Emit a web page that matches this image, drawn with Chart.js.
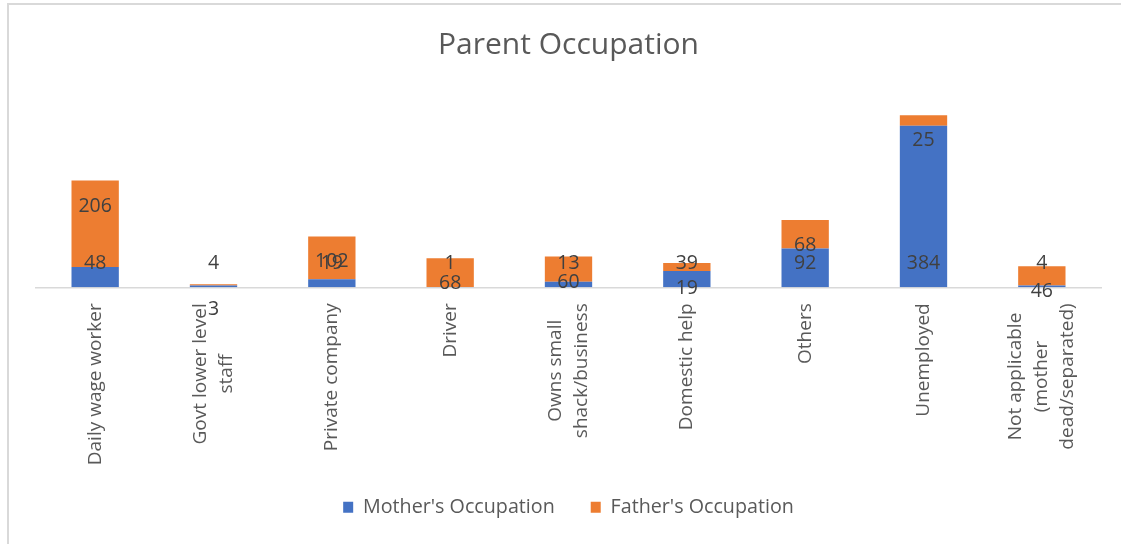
<!DOCTYPE html>
<html>
<head>
<meta charset="utf-8">
<style>
  html, body { margin: 0; padding: 0; background: #ffffff; }
  #wrap { position: relative; width: 1121px; height: 544px; }
</style>
<script src="https://cdn.jsdelivr.net/npm/chart.js@4.4.1/dist/chart.umd.min.js"></script>
</head>
<body>
<div id="wrap"><canvas id="c" width="1121" height="544"></canvas></div>
<script>
// ---- data ----
const chartTitle = "Parent Occupation";
const categories = [
  ["Daily wage worker"],
  ["Govt lower level", "staff"],
  ["Private company"],
  ["Driver"],
  ["Owns small", "shack/business"],
  ["Domestic help"],
  ["Others"],
  ["Unemployed"],
  ["Not applicable", "(mother", "dead/separated)"]
];
const seriesNames = ["Mother's Occupation", "Father's Occupation"];
const motherValues = [48, 4, 19, 1, 13, 39, 92, 384, 4];
const fatherValues = [206, 3, 102, 68, 60, 19, 68, 25, 46];
const yMax = 450;

const FONT = "'Open Sans', 'DejaVu Sans', sans-serif";

const decor = {
  id: 'decor',
  beforeDraw(chart) {
    const ctx = chart.ctx;
    ctx.save();
    ctx.fillStyle = '#d9d9d9';
    ctx.fillRect(7, 3, chart.width - 7, 2);
    ctx.fillRect(7, 3, 2, chart.height - 3);
    ctx.restore();
  },
  afterDraw(chart) {
    const ctx = chart.ctx, xs = chart.scales.x, area = chart.chartArea;
    ctx.save();
    // category labels (rotated, centered multi-line)
    ctx.font = `19px ${FONT}`;
    ctx.fillStyle = '#595959';
    ctx.textAlign = 'center';
    ctx.textBaseline = 'middle';
    categories.forEach((lines, i) => {
      const px = xs.getPixelForTick(i);
      const maxW = Math.max(...lines.map(l => ctx.measureText(l).width));
      const cy = area.bottom + 16 + maxW / 2;
      lines.forEach((l, j) => {
        ctx.save();
        ctx.translate(px + (j - (lines.length - 1) / 2) * 26, cy);
        ctx.rotate(-Math.PI / 2);
        ctx.fillText(l, 0, 0);
        ctx.restore();
      });
    });
    // data labels
    ctx.font = `19.5px ${FONT}`;
    ctx.fillStyle = '#404040';
    const m0 = chart.getDatasetMeta(0), m1 = chart.getDatasetMeta(1);
    m0.data.forEach((bar, i) => ctx.fillText(String(motherValues[i]), bar.x, bar.base - 23.5));
    m1.data.forEach((bar, i) => ctx.fillText(String(fatherValues[i]), bar.x, bar.y + 25.5));
    ctx.restore();
  }
};

new Chart(document.getElementById('c'), {
  type: 'bar',
  data: {
    labels: categories,
    datasets: [
      { label: seriesNames[0], data: motherValues, backgroundColor: '#4472C4', borderWidth: 0 },
      { label: seriesNames[1], data: fatherValues, backgroundColor: '#ED7D31', borderWidth: 0 }
    ]
  },
  options: {
    responsive: false,
    animation: false,
    devicePixelRatio: 1,
    layout: { padding: { left: 36, right: 20, top: 0, bottom: 17 } },
    datasets: { bar: { categoryPercentage: 1.0, barPercentage: 0.4 } },
    scales: {
      x: {
        stacked: true,
        grid: { display: false },
        border: { display: true, color: '#d9d9d9', width: 1.5 },
        ticks: { display: false },
        afterFit(s) { s.height = 174; }
      },
      y: {
        stacked: true,
        display: false,
        min: 0,
        max: yMax
      }
    },
    plugins: {
      title: {
        display: true,
        text: chartTitle,
        color: '#595959',
        font: { family: FONT, size: 30, weight: 'normal' },
        padding: { top: 27, bottom: 35 }
      },
      legend: {
        position: 'bottom',
        labels: {
          color: '#595959',
          font: { family: FONT, size: 19.7 },
          boxWidth: 10,
          boxHeight: 11,
          padding: 36
        }
      },
      tooltip: { enabled: false }
    }
  },
  plugins: [decor]
});
</script>
</body>
</html>
